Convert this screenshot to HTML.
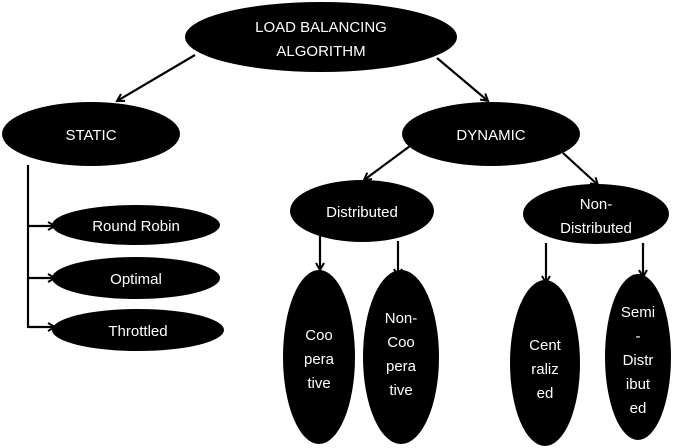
<!DOCTYPE html>
<html><head><style>html,body{margin:0;padding:0;background:#fff}svg{display:block}</style></head><body>
<svg width="683" height="448" viewBox="0 0 683 448" xmlns="http://www.w3.org/2000/svg">
<defs><marker id="a" markerWidth="10" markerHeight="10" refX="8" refY="5" orient="auto" markerUnits="userSpaceOnUse"><path d="M1,1 L8,5 L1,9" fill="none" stroke="#000" stroke-width="2"/></marker></defs>
<g stroke="#000" stroke-width="2.2" fill="none" marker-end="url(#a)">
<line x1="195" y1="55" x2="117" y2="101"/>
<line x1="437" y1="58" x2="488" y2="101"/>
<line x1="410" y1="146" x2="364" y2="180"/>
<line x1="563" y1="153" x2="598" y2="185"/>
<line x1="320" y1="235" x2="320" y2="270"/>
<line x1="398" y1="241" x2="398" y2="276"/>
<line x1="546" y1="243" x2="546" y2="283"/>
<line x1="643" y1="243" x2="643" y2="277"/>
<line x1="28" y1="226" x2="55" y2="226"/>
<line x1="28" y1="278" x2="55" y2="278"/>
<line x1="28" y1="327" x2="55" y2="327"/>
</g>
<line x1="28" y1="165" x2="28" y2="328" stroke="#000" stroke-width="2.2"/>
<g fill="#000">
<ellipse cx="321" cy="37" rx="136" ry="35"/>
<ellipse cx="91" cy="134" rx="89" ry="32"/>
<ellipse cx="491" cy="134" rx="89" ry="32"/>
<ellipse cx="362" cy="211" rx="72" ry="31"/>
<ellipse cx="596" cy="214" rx="73" ry="30"/>
<ellipse cx="136" cy="225" rx="84" ry="20"/>
<ellipse cx="136" cy="278" rx="84" ry="21"/>
<ellipse cx="138" cy="330" rx="86" ry="21"/>
<ellipse cx="319" cy="357" rx="36" ry="87"/>
<ellipse cx="401" cy="357" rx="38" ry="87"/>
<ellipse cx="545" cy="363" rx="35" ry="83"/>
<ellipse cx="638" cy="357" rx="33" ry="83"/>
</g>
<g fill="#fff" font-family="Liberation Sans, sans-serif" font-size="15" text-anchor="middle">
<text x="321" y="32">LOAD BALANCING</text><text x="321" y="56">ALGORITHM</text>
<text x="91" y="140">STATIC</text>
<text x="491" y="140">DYNAMIC</text>
<text x="362" y="217">Distributed</text>
<text x="596" y="209">Non-</text><text x="596" y="233">Distributed</text>
<text x="136" y="231">Round Robin</text>
<text x="136" y="284">Optimal</text>
<text x="138" y="336">Throttled</text>
<text x="319" y="340">Coo</text><text x="319" y="364">pera</text><text x="319" y="388">tive</text>
<text x="401" y="323">Non-</text><text x="401" y="347">Coo</text><text x="401" y="371">pera</text><text x="401" y="395">tive</text>
<text x="545" y="350">Cent</text><text x="545" y="374">raliz</text><text x="545" y="398">ed</text>
<text x="638" y="317">Semi</text><text x="638" y="341">-</text><text x="638" y="365">Distr</text><text x="638" y="389">ibut</text><text x="638" y="413">ed</text>
</g>
</svg>
</body></html>
